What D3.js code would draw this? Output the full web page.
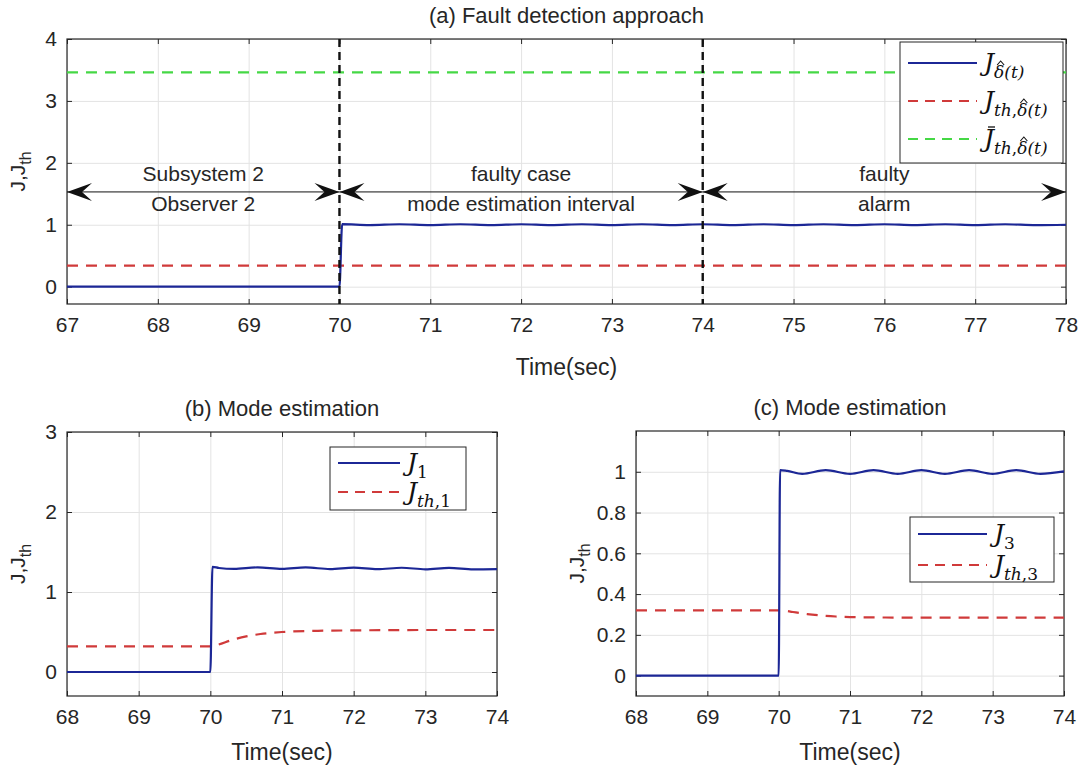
<!DOCTYPE html>
<html>
<head>
<meta charset="utf-8">
<script src="https://cdn.jsdelivr.net/npm/d3@7"></script>
<style>
  body { margin: 0; background: #fff; }
  text { font-family: "Liberation Sans", Arial, sans-serif; fill: #262626; }
  .math { font-family: "DejaVu Serif", "Liberation Serif", serif; font-style: italic; fill: #111; }
</style>
</head>
<body>
<svg id="chart" width="1087" height="772"></svg>
<script>
// ---- data ----
// (a) fault detection
var timeA = [67, 70.0, 70.03, 70.33, 70.66, 71.0, 71.33, 71.67, 72.0, 72.33, 72.67, 73.0, 73.33, 73.67, 74.0,
             74.33, 74.67, 75.0, 75.33, 75.67, 76.0, 76.33, 76.67, 77.0, 77.33, 77.67, 78];
var jA    = [0, 0, 1.01, 0.995, 1.008, 0.993, 1.008, 0.993, 1.008, 0.993, 1.008, 0.993, 1.008, 0.993, 1.008,
             0.993, 1.008, 0.993, 1.008, 0.993, 1.008, 0.993, 1.008, 0.993, 1.008, 0.993, 1.0];
var thTimeA = [67, 78];
var thA     = [0.34, 0.34];
var thBarA  = [3.46, 3.46];
var faultLines = [70, 74];
var spanEdges = [[67, 70], [70, 74], [74, 78]];
var spanTop = ["Subsystem 2", "faulty case", "faulty"];
var spanBottom = ["Observer 2", "mode estimation interval", "alarm"];

// (b) mode estimation, J1
var timeB = [68, 70.0, 70.03, 70.12, 70.33, 70.66, 71.0, 71.33, 71.67, 72.0, 72.33, 72.67, 73.0, 73.33, 73.67, 74.0];
var jB    = [0, 0, 1.315, 1.30, 1.288, 1.308, 1.288, 1.307, 1.287, 1.305, 1.285, 1.303, 1.284, 1.301, 1.282, 1.285];
var thTimeB = [68, 70.0, 70.1, 70.3, 70.5, 70.7, 71.0, 71.5, 72.0, 73.0, 74.0];
var thB     = [0.32, 0.32, 0.34, 0.40, 0.445, 0.475, 0.50, 0.515, 0.52, 0.525, 0.525];

// (c) mode estimation, J3
var timeC = [68, 70.0, 70.02, 70.12, 70.33, 70.66, 71.0, 71.33, 71.67, 72.0, 72.33, 72.67, 73.0, 73.33, 73.67, 74.0];
var jC    = [0, 0, 1.008, 1.004, 0.99, 1.008, 0.99, 1.008, 0.99, 1.008, 0.99, 1.008, 0.99, 1.008, 0.99, 1.002];
var thTimeC = [68, 70.05, 70.2, 70.4, 70.6, 70.8, 71.0, 71.5, 72.0, 73.0, 74.0];
var thC     = [0.32, 0.32, 0.312, 0.302, 0.295, 0.29, 0.287, 0.285, 0.284, 0.284, 0.284];

var ticksA = [67, 68, 69, 70, 71, 72, 73, 74, 75, 76, 77, 78];
var yTicksA = [0, 1, 2, 3, 4];
var ticksBC = [68, 69, 70, 71, 72, 73, 74];
var yTicksB = [0, 1, 2, 3];
var yTicksC = [0, 0.2, 0.4, 0.6, 0.8, 1];

var blue = "#1c2796", red = "#d03a3a", green = "#45d845";
var svg = d3.select("#chart");

function zip(t, v) { return t.map(function(d, i) { return [d, v[i]]; }); }

// draws one MATLAB-like axes box, returns scales and group
function panel(o) {
  var w = o.right - o.left, h = o.bottom - o.top;
  var x = d3.scaleLinear().domain(o.xDomain).range([0, w]);
  var y = d3.scaleLinear().domain(o.yDomain).range([h, 0]);
  var g = svg.append("g").attr("transform", `translate(${o.left},${o.top})`);

  // grid
  g.append("g").attr("transform", `translate(0,${h})`)
    .call(d3.axisBottom(x).tickValues(o.xTicks).tickSize(-h).tickFormat(""))
    .call(function(s) { s.select(".domain").remove(); s.selectAll("line").attr("stroke", "#e3e3e3"); });
  g.append("g")
    .call(d3.axisLeft(y).tickValues(o.yTicks).tickSize(-w).tickFormat(""))
    .call(function(s) { s.select(".domain").remove(); s.selectAll("line").attr("stroke", "#e3e3e3"); });

  // axes with inward ticks
  var xb = g.append("g").attr("transform", `translate(0,${h})`)
    .call(d3.axisBottom(x).tickValues(o.xTicks).tickSize(-5).tickPadding(13).tickFormat(d3.format("d")));
  var yl = g.append("g")
    .call(d3.axisLeft(y).tickValues(o.yTicks).tickSize(-5).tickPadding(10).tickFormat(function(d) { return d3.format("~g")(d); }));
  var xt = g.append("g").call(d3.axisTop(x).tickValues(o.xTicks).tickSize(-5).tickFormat(""));
  var yr = g.append("g").attr("transform", `translate(${w},0)`)
    .call(d3.axisRight(y).tickValues(o.yTicks).tickSize(-5).tickFormat(""));
  [xb, yl, xt, yr].forEach(function(a) {
    a.select(".domain").remove();
    a.selectAll("line").attr("stroke", "#262626");
    a.selectAll("text").attr("font-size", 21).attr("fill", "#262626")
      .attr("font-family", "Liberation Sans, Arial, sans-serif");
  });

  g.append("rect").attr("width", w).attr("height", h)
    .attr("fill", "none").attr("stroke", "#262626").attr("stroke-width", 1.2);

  // titles and labels
  svg.append("text").attr("x", o.left + w / 2).attr("y", o.top - 16)
    .attr("text-anchor", "middle").attr("font-size", 22).text(o.title);
  svg.append("text").attr("x", o.left + w / 2).attr("y", o.xLabelY)
    .attr("text-anchor", "middle").attr("font-size", 23).text("Time(sec)");
  var yl2 = svg.append("text")
    .attr("transform", `translate(${o.yLabelX},${o.top + h / 2}) rotate(-90)`)
    .attr("text-anchor", "middle").attr("font-size", 21);
  yl2.append("tspan").text("J,J");
  yl2.append("tspan").attr("font-size", 16).attr("dy", 6).text("th");

  var clip = "clip" + o.id;
  g.append("clipPath").attr("id", clip).append("rect").attr("width", w).attr("height", h);
  var plot = g.append("g").attr("clip-path", `url(#${clip})`);
  return { x: x, y: y, g: g, plot: plot, w: w, h: h };
}

function drawLine(p, pts, color, dash, curve) {
  var line = d3.line().x(function(d) { return p.x(d[0]); }).y(function(d) { return p.y(d[1]); })
    .curve(curve || d3.curveLinear);
  p.plot.append("path").datum(pts).attr("d", line)
    .attr("fill", "none").attr("stroke", color).attr("stroke-width", 2.2)
    .attr("stroke-dasharray", dash || null);
}

// legend: each item has subscript pieces [text, italic?]
function legend(p, box, items) {
  var lg = p.g.append("g").attr("transform", `translate(${box.x},${box.y})`);
  lg.append("rect").attr("width", box.w).attr("height", box.h)
    .attr("fill", "#fff").attr("stroke", "#262626").attr("stroke-width", 1);
  items.forEach(function(it, i) {
    var cy = box.pad + i * box.step;
    lg.append("line").attr("x1", 8).attr("x2", box.lineLen).attr("y1", cy).attr("y2", cy)
      .attr("stroke", it.color).attr("stroke-width", 2.2).attr("stroke-dasharray", it.dash || null);
    var t = lg.append("text").attr("class", "math").attr("x", box.lineLen + 7).attr("y", cy + 8)
      .attr("font-size", 25);
    t.append("tspan").text("J");
    it.sub.forEach(function(s, k) {
      var ts = t.append("tspan").attr("font-size", 17).text(s[0])
        .attr("font-style", s[1] ? "italic" : "normal");
      if (k === 0) ts.attr("dy", 7);
    });
    var str = t.text();
    // bar over J
    if (it.bar) {
      var e = t.node().getExtentOfChar(0);
      lg.append("line").attr("x1", e.x + 4).attr("x2", e.x + e.width + 1)
        .attr("y1", e.y + 3).attr("y2", e.y + 3).attr("stroke", "#111").attr("stroke-width", 1.3);
    }
    // hat over delta, drawn as a small chevron
    var di = str.indexOf("\u03b4");
    if (di >= 0) {
      var d = t.node().getExtentOfChar(di);
      var cx = d.x + d.width / 2 + 1.5, top = d.y - 1;
      lg.append("path").attr("d", `M${cx - 3.5},${top + 4} L${cx},${top} L${cx + 3.5},${top + 4}`)
        .attr("fill", "none").attr("stroke", "#111").attr("stroke-width", 1.1);
    }
  });
}

// ---- (a) ----
var pa = panel({ id: "a", left: 67, right: 1066, top: 39, bottom: 304,
  xDomain: [67, 78], yDomain: [-0.28, 4], xTicks: ticksA, yTicks: yTicksA,
  title: "(a) Fault detection approach", xLabelY: 375, yLabelX: 25 });
drawLine(pa, zip(thTimeA, thBarA), green, "11,8");
drawLine(pa, zip(thTimeA, thA), red, "11,8");
drawLine(pa, zip(timeA, jA), blue, null, d3.curveMonotoneX);

faultLines.forEach(function(t) {
  pa.g.append("line").attr("x1", pa.x(t)).attr("x2", pa.x(t)).attr("y1", 0).attr("y2", pa.h)
    .attr("stroke", "#111").attr("stroke-width", 2.4).attr("stroke-dasharray", "8,5");
});

// double arrows with text
function arrowHead(g, xTip, yTip, dir) {
  var L = 25, W = 9, n = 15;
  g.append("path")
    .attr("d", `M${xTip},${yTip} L${xTip - dir * L},${yTip - W} L${xTip - dir * n},${yTip} L${xTip - dir * L},${yTip + W} Z`)
    .attr("fill", "#111");
}
var annY = 1.53, annTopY = 1.7, annBotY = 1.22;
spanEdges.forEach(function(s, i) {
  var x0 = pa.x(s[0]), x1 = pa.x(s[1]), yy = pa.y(annY);
  pa.g.append("line").attr("x1", x0).attr("x2", x1).attr("y1", yy).attr("y2", yy)
    .attr("stroke", "#111").attr("stroke-width", 1);
  arrowHead(pa.g, x0, yy, -1);
  arrowHead(pa.g, x1, yy, 1);
  pa.g.append("text").attr("x", (x0 + x1) / 2).attr("y", pa.y(annTopY))
    .attr("text-anchor", "middle").attr("font-size", 21).text(spanTop[i]);
  pa.g.append("text").attr("x", (x0 + x1) / 2).attr("y", pa.y(annBotY))
    .attr("text-anchor", "middle").attr("font-size", 21).text(spanBottom[i]);
});

legend(pa, { x: 833, y: 3, w: 163, h: 121, pad: 21, step: 38, lineLen: 77 }, [
  { color: blue, sub: [["\u03b4(t)", true]] },
  { color: red, dash: "10,7", sub: [["th", true], [",", false], ["\u03b4(t)", true]] },
  { color: green, dash: "10,7", bar: true, sub: [["th", true], [",", false], ["\u03b4(t)", true]] }
]);

// ---- (b) ----
var pb = panel({ id: "b", left: 67, right: 497, top: 432, bottom: 696,
  xDomain: [68, 74], yDomain: [-0.3, 3], xTicks: ticksBC, yTicks: yTicksB,
  title: "(b) Mode estimation", xLabelY: 760, yLabelX: 25 });
drawLine(pb, zip(thTimeB, thB), red, "11,8", d3.curveMonotoneX);
drawLine(pb, zip(timeB, jB), blue, null, d3.curveMonotoneX);
legend(pb, { x: 263, y: 15, w: 136, h: 63, pad: 16, step: 29, lineLen: 70 }, [
  { color: blue, sub: [["1", false]] },
  { color: red, dash: "10,7", sub: [["th", true], [",1", false]] }
]);

// ---- (c) ----
var pc = panel({ id: "c", left: 636, right: 1064, top: 431, bottom: 696,
  xDomain: [68, 74], yDomain: [-0.1, 1.2], xTicks: ticksBC, yTicks: yTicksC,
  title: "(c) Mode estimation", xLabelY: 760, yLabelX: 584 });
drawLine(pc, zip(thTimeC, thC), red, "11,8", d3.curveMonotoneX);
drawLine(pc, zip(timeC, jC), blue, null, d3.curveMonotoneX);
legend(pc, { x: 274, y: 86, w: 144, h: 65, pad: 17, step: 31, lineLen: 77 }, [
  { color: blue, sub: [["3", false]] },
  { color: red, dash: "10,7", sub: [["th", true], [",3", false]] }
]);
</script>
</body>
</html>
